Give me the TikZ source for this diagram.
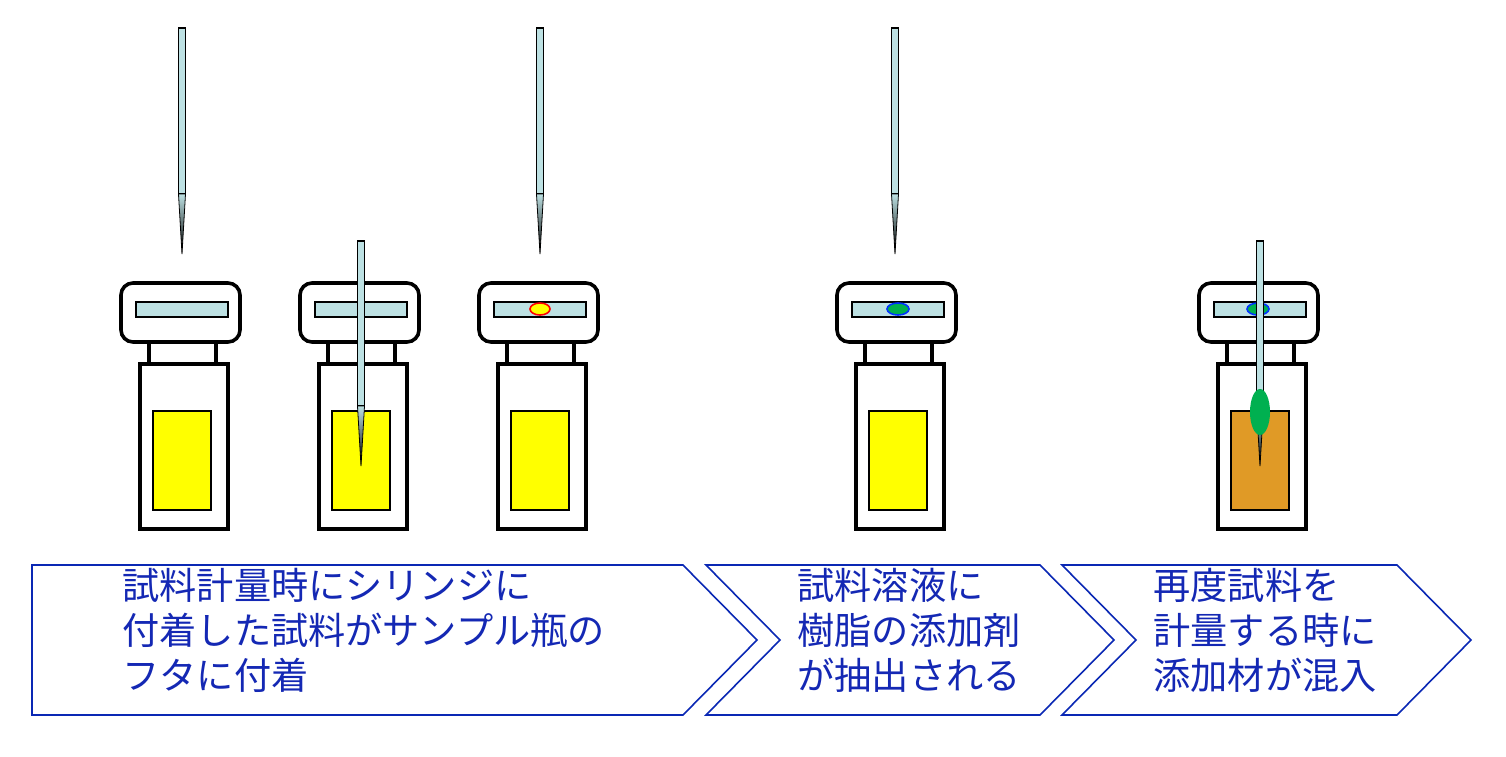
\documentclass[tikz,border=0pt]{standalone}
\usepackage{fontspec}
\usetikzlibrary{shapes.geometric}
\newfontfamily\cjk{Noto Sans CJK JP}
\begin{document}
\begin{tikzpicture}[x=0.5pt,y=-0.5pt,
  thick/.style={line width=1.8pt},
  bar/.style={fill=needlec,draw=black,line width=0.6pt},
  chev/.style={draw=arrc,line width=0.8pt,fill=white},
  lbl/.style={font=\cjk\fontsize{18.6pt}{22.5pt}\selectfont,text=txtc,align=left,anchor=north west,inner sep=0pt}]
\definecolor{needlec}{HTML}{BDE1E3}
\definecolor{arrc}{HTML}{0A28B4}
\definecolor{txtc}{HTML}{1428B4}
\definecolor{gr}{HTML}{00B050}
\definecolor{brn}{HTML}{E09A26}
\definecolor{yel}{HTML}{FFFF00}
\useasboundingbox (0,0) rectangle (1506,756);
\newcommand\myvial[2]{%
  \begin{scope}[shift={(#1,0)}]
  \draw[thick,rounded corners=6pt] (-61,283) rectangle (58,342);
  \draw[bar] (-46,302) rectangle (46,317);
  \draw[thick] (-33,342) -- (-33,364) (34,342) -- (34,364);
  \draw[thick] (-42,364) rectangle (46,529);
  \draw[fill=#2,draw=black,line width=0.8pt] (-29,411) rectangle (29,510);
  \end{scope}}
\newcommand\myneedle[3]{% x, top y, barrel bottom y
  \draw[bar] (#1-3.5,#2) rectangle (#1+3.5,#3);
  \shade[top color=needlec,bottom color=black,draw=black,line width=0.4pt] (#1-3.5,#3) -- (#1+3.5,#3) -- (#1,#3+60) -- cycle;}
\myvial{182}{yel}
\myvial{361}{yel}
\myvial{540}{yel}
\myvial{898}{yel}
\myvial{1260}{brn}
\node[ellipse,draw=red,fill=yel,line width=0.8pt,minimum width=10pt,minimum height=6pt,inner sep=0pt] (d3) at (540,309) {};
\node[ellipse,draw=blue!80!cyan,fill=gr,line width=0.8pt,minimum width=11pt,minimum height=6pt,inner sep=0pt] (d4) at (898,309) {};
\node[ellipse,draw=blue!80!cyan,fill=gr,line width=0.8pt,minimum width=11pt,minimum height=6pt,inner sep=0pt] (d5) at (1258,309) {};
\myneedle{182}{28}{194}
\myneedle{361}{241}{406}
\myneedle{540}{28}{194}
\myneedle{895}{28}{194}
\myneedle{1260}{241}{406}
\node[ellipse,fill=gr,minimum width=10pt,minimum height=23pt,inner sep=0pt] (blob) at (1260,412) {};
\draw[chev] (32,565) -- (683,565) -- (757,640) -- (683,715) -- (32,715) -- cycle;
\draw[chev] (706,565) -- (1040,565) -- (1114,640) -- (1040,715) -- (706,715) -- (780,640) -- cycle;
\draw[chev] (1062,565) -- (1397,565) -- (1471,640) -- (1397,715) -- (1062,715) -- (1136,640) -- cycle;
\node[lbl] (t1) at (122,568) {試料計量時にシリンジに\\付着した試料がサンプル瓶の\\フタに付着};
\node[lbl] (t2) at (797,568) {試料溶液に\\樹脂の添加剤\\が抽出される};
\node[lbl] (t3) at (1153,568) {再度試料を\\計量する時に\\添加材が混入};
\end{tikzpicture}
\end{document}
